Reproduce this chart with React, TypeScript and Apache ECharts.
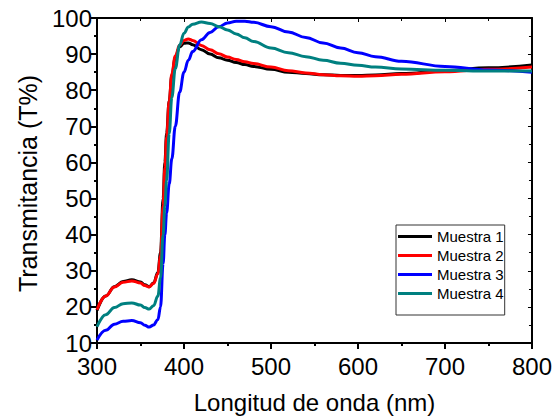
import React, { useEffect, useRef } from "react";
import * as echarts from "echarts";

const wavelengths = [300, 310, 320, 330, 340, 350, 355, 360, 365, 370, 373, 376, 378, 380, 383, 386, 390, 395, 400, 405, 410, 420, 430, 440, 450, 460, 470, 480, 500, 520, 540, 560, 580, 600, 620, 650, 700, 750, 800];

const muestra1 = [19.0, 23.0, 25.6, 27.0, 27.5, 26.9, 26.1, 25.6, 26.6, 29.5, 35, 50, 60, 68, 77, 84, 89, 92, 93.0, 93.1, 92.6, 91.2, 90.0, 89.0, 88.3, 87.7, 87.1, 86.6, 85.8, 85.0, 84.6, 84.3, 84.1, 84.1, 84.2, 84.6, 85.4, 86.2, 87.0];
const muestra2 = [19.2, 23.0, 25.5, 26.8, 27.2, 26.6, 25.9, 25.5, 26.5, 29.2, 34, 48, 58.5, 67, 77, 84.5, 89.5, 92.5, 93.8, 94.2, 93.8, 92.4, 91.2, 90.1, 89.2, 88.5, 87.9, 87.4, 86.4, 85.4, 84.8, 84.3, 84.0, 83.9, 84.0, 84.4, 85.1, 85.8, 86.4];
const muestra3 = [10.8, 13.5, 15.2, 16.0, 16.2, 15.6, 14.9, 14.4, 15.0, 16.5, 20, 32, 40, 46, 54, 61, 70, 79.5, 85, 88.3, 90.7, 94, 96, 97.6, 98.6, 99.1, 99.1, 98.8, 97.6, 96.1, 94.6, 93.1, 91.7, 90.4, 89.3, 88.0, 86.6, 85.6, 85.0];
const muestra4 = [14.5, 17.8, 19.8, 20.9, 21.1, 20.5, 19.8, 19.4, 20.3, 23, 28, 40, 48, 55, 68, 78, 86, 92.5, 95.8, 97.5, 98.3, 98.9, 98.5, 97.6, 96.7, 95.6, 94.5, 93.5, 91.7, 90.4, 89.3, 88.3, 87.5, 86.9, 86.4, 85.9, 85.5, 85.3, 85.3];

const seriesNames = ["Muestra 1", "Muestra 2", "Muestra 3", "Muestra 4"];
const seriesColors = ["#000000", "#ff0000", "#0000ff", "#008080"];
const seriesValues = [muestra1, muestra2, muestra3, muestra4];

const FONT = "'Liberation Sans', Arial, sans-serif";

export default function App() {
  const ref = useRef<HTMLDivElement>(null);
  useEffect(() => {
    if (!ref.current) return;
    const chart = echarts.init(ref.current, null, { renderer: "svg" });
    const axisLine = { show: true, onZero: false, lineStyle: { color: "#000", width: 2 } };
    chart.setOption({
      animation: false,
      backgroundColor: "#fff",
      grid: { left: 97, right: 19, top: 18, bottom: 76 },
      legend: {
        orient: "vertical",
        left: 396,
        top: 225,
        data: seriesNames,
        icon: "rect",
        itemWidth: 34,
        itemHeight: 3,
        itemGap: 2,
        padding: [3, 1, 13, 2],
        borderColor: "#333",
        borderWidth: 1,
        backgroundColor: "#fff",
        borderRadius: 0,
        textStyle: { fontFamily: FONT, fontSize: 15, color: "#000", lineHeight: 17 },
      },
      xAxis: [
        {
          type: "value",
          min: 300,
          max: 800,
          interval: 100,
          name: "Longitud de onda (nm)",
          nameLocation: "middle",
          nameGap: 47,
          nameTextStyle: { fontFamily: FONT, fontSize: 24, color: "#000" },
          axisLine,
          axisTick: { show: true, inside: false, length: 6, lineStyle: { color: "#000", width: 2 } },
          minorTick: { show: true, splitNumber: 2, length: 3, lineStyle: { color: "#000", width: 2 } },
          axisLabel: { fontFamily: FONT, fontSize: 24, color: "#000", margin: 11 },
          splitLine: { show: false },
        },
        {
          type: "value",
          position: "top",
          min: 300,
          max: 800,
          interval: 100,
          axisLine,
          axisTick: { show: true, inside: true, length: 4, lineStyle: { color: "#000", width: 1 } },
          minorTick: { show: true, splitNumber: 2, length: 3, lineStyle: { color: "#000", width: 1 } },
          axisLabel: { show: false },
          splitLine: { show: false },
        },
      ],
      yAxis: [
        {
          type: "value",
          min: 10,
          max: 100,
          interval: 10,
          name: "Transmitancia (T%)",
          nameLocation: "middle",
          nameGap: 57,
          nameTextStyle: { fontFamily: FONT, fontSize: 25, color: "#000", padding: [0, 6, 0, 0] },
          axisLine,
          axisTick: { show: true, inside: false, length: 6, lineStyle: { color: "#000", width: 2 } },
          minorTick: { show: true, splitNumber: 2, length: 3, lineStyle: { color: "#000", width: 2 } },
          axisLabel: { fontFamily: FONT, fontSize: 24, color: "#000", margin: 5, lineHeight: 20, padding: [0, 0, 8, 0] },
          splitLine: { show: false },
        },
        {
          type: "value",
          position: "right",
          min: 10,
          max: 100,
          interval: 10,
          axisLine,
          axisTick: { show: true, inside: true, length: 4, lineStyle: { color: "#000", width: 1 } },
          minorTick: { show: true, splitNumber: 2, length: 3, lineStyle: { color: "#000", width: 1 } },
          axisLabel: { show: false },
          splitLine: { show: false },
        },
      ],
      series: seriesNames.map((name, i) => ({
        name,
        type: "line",
        xAxisIndex: 0,
        yAxisIndex: 0,
        data: wavelengths.map((w, j) => [w, seriesValues[i][j]]),
        symbol: "none",
        smooth: 0.4,
        smoothMonotone: "x",
        clip: true,
        lineStyle: { color: seriesColors[i], width: 3 },
        itemStyle: { color: seriesColors[i] },
      })),
    });
    return () => chart.dispose();
  }, []);
  return <div ref={ref} style={{ width: 555, height: 419, position: "absolute", left: 0, top: 0 }} />;
}
